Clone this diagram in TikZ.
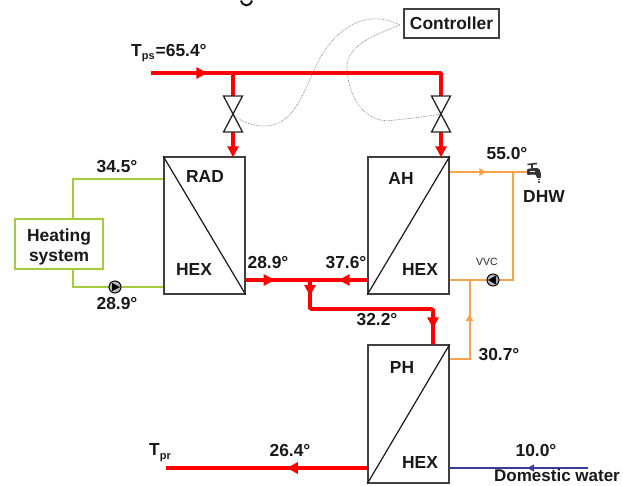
\documentclass[tikz,border=0pt]{standalone}
\usepackage{fontspec}
\setmainfont{Liberation Sans}
\usetikzlibrary{arrows.meta,decorations.markings,calc}
\definecolor{hotred}{HTML}{FF0000}
\definecolor{grn}{HTML}{A2CC3A}
\definecolor{org}{HTML}{F9A24B}
\definecolor{blu}{HTML}{3B3B9E}
\definecolor{edgegray}{HTML}{404040}
\tikzset{
  lbl/.style={font=\fontsize{17.4}{19}\selectfont\bfseries,inner sep=0pt,text=black!90},
  hexbox/.style={draw=edgegray,line width=1.5pt,minimum width=81pt,minimum height=137pt,inner sep=0pt,fill=white},
  redp/.style={draw=hotred,line width=3.6pt},
  grnp/.style={draw=grn,line width=2pt},
  orgp/.style={draw=org,line width=2pt},
  blup/.style={draw=blu,line width=1.5pt},
  ctl/.style={draw=gray,line width=0.7pt,densely dotted},
  diag/.style={draw=black!90,line width=1.2pt},
  valveshape/.style={draw=black!85,line width=1.3pt,fill=white},
  pumpn/.style={circle,draw=black,fill=gray!55,line width=1pt,minimum size=12pt,inner sep=0pt},
  tipat/.style args={#1 size #2}{postaction={decorate},decoration={markings,mark=at position #1 with {\arrow{Triangle[length=#2pt,width=#2pt]}}}},
}
\begin{document}
\begin{tikzpicture}[x=1pt,y=-1pt]
\useasboundingbox (0,0) rectangle (623,485);
% fragment at the top edge
\draw[line width=2pt,black!90] (241,0.5) .. controls (243,7) and (250,7) .. (252,0.5);

\node[hexbox] (rad) at (204.5,225.5) {};
\node[hexbox] (ah) at (408.5,225.5) {};
\node[hexbox,minimum height=138pt] (ph) at (408.5,414) {};
\node[draw=edgegray,fill=white,line width=1.2pt,minimum width=95pt,minimum height=29pt,inner sep=0pt,lbl] (ctrl) at (451.5,23.5) {Controller};
\node[draw=grn,line width=2pt,minimum width=88pt,minimum height=50pt,inner sep=0pt,align=center,lbl,font=\fontsize{17.4}{20}\selectfont\bfseries] (heat) at (59,243.5) {\rule{0pt}{19pt}Heating\\system};

% coordinates
\coordinate (src) at (151,73);
\coordinate (tee) at (233,73);
\coordinate (cor) at (441,73);
\coordinate (v1) at (233,114);
\coordinate (v2) at (441,114);
\coordinate (j) at (310,280);
\coordinate (jd) at (310,309);
\coordinate (jr) at (433,309);
\coordinate (prend) at (166,468);
\coordinate (cwend) at (588,468);
\coordinate (hot) at (513,172);
\coordinate (tapin) at (527,172);
\coordinate (rec) at (513,280);
\coordinate (mix) at (469.5,280);
\coordinate (mixd) at (469.5,359);

% dotted control lines
\draw[ctl] (400,25) .. controls (378,14) and (350,15) .. (325,50) .. controls (305,80) and (300,125) .. (265,126) .. controls (250,126) and (240,121) .. (v1);
\draw[ctl] (400,25) .. controls (375,35) and (345,45) .. (347,70) .. controls (350,105) and (370,125) .. (395,120) .. controls (415,118) and (430,116) .. (v2);

% red lines
\draw[redp,tipat=0.18 size 11,line join=round] (src) -- (cor) -- (v2 |- 0,96);
\draw[redp] (tee) -- (v1 |- 0,96);
\draw[redp,-{Triangle[length=11pt,width=11pt]},shorten >=-1pt] (v1 |- 0,132) -- (v1 |- rad.north);
\draw[redp,-{Triangle[length=11pt,width=11pt]},shorten >=-1pt] (v2 |- 0,132) -- (v2 |- ah.north);
\draw[redp,tipat=0.45 size 11] (rad.east |- j) -- (j);
\draw[redp,tipat=0.5 size 11] (ah.west |- j) -- (j);
\draw[redp,line join=round,rounded corners=1pt] (j) -- (jd) -- (jr) -- (jr |- ph.north);
\draw[redp,tipat=0.55 size 11] (j) -- (jd);
\draw[redp,tipat=0.55 size 11] (jr) -- (jr |- ph.north);
\draw[redp,tipat=0.40 size 11] (ph.west |- prend) -- (prend);

% green
\draw[grnp] (heat.north -| 73,0) -- (73,179) -- (rad.west |- 0,179);
\draw[grnp] (heat.south -| 73,0) -- (73,287) -- (rad.west |- 0,287);
\node[pumpn] (p1) at (115,287) {};
\fill[black] ($(p1)+(-3,-4)$) -- ($(p1)+(5,0)$) -- ($(p1)+(-3,4)$) -- cycle;

% orange
\draw[orgp,tipat=0.58 size 7] (ah.east |- hot) -- (hot);
\draw[orgp] (hot) -- (tapin);
\draw[orgp] (hot) -- (rec) -- (ah.east |- rec);
\draw[orgp] (ph.east |- mixd) -- (mixd) -- (mix);
\draw[orgp,tipat=0.57 size 7] (mixd) -- (mix);
\node[pumpn] (p2) at (493,280) {};
\fill[black] ($(p2)+(3,-4.5)$) -- ($(p2)+(-5,0)$) -- ($(p2)+(3,4.5)$) -- cycle;

% blue
\draw[blup,tipat=0.44 size 7] (cwend) -- (ph.east |- cwend);

% heat exchanger diagonals
\draw[diag] (rad.north west) -- (rad.south east);
\draw[diag] (ah.south west) -- (ah.north east);
\draw[diag] (ph.south west) -- (ph.north east);

% valves
\foreach \v in {v1,v2}{
  \draw[valveshape,line join=miter] ($(\v)+(-9.5,-18)$) -- ($(\v)+(9.5,-18)$) -- ($(\v)+(-9.5,18)$) -- ($(\v)+(9.5,18)$) -- cycle;
}

% tap
\fill[black!80,rounded corners=1pt]
  (527,169) -- (533,168) -- (537,168) .. controls (540,169) and (541,172) .. (541,178) -- (536.5,178) .. controls (536.5,175) and (536,174.5) .. (533,174.5) -- (527,175) -- cycle;
\draw[black!80,line width=1.6pt] (532,168) -- (532,164.5) (527.5,164.5) -- (537,163.5);
\fill[white] (529.5,170.5) rectangle (535,172);
\draw[black!70,line width=1.4pt,densely dotted] (539,179) -- (539,183);

% labels
\node[lbl,anchor=base west] at (131,56) {T\raisebox{-3.5pt}{\fontsize{11}{12}\selectfont ps}\kern1pt=65.4°};
\node[lbl] at (117,167) {34.5°};
\node[lbl] at (117,304) {28.9°};
\node[lbl] at (268,263) {28.9°};
\node[lbl] at (346,263) {37.6°};
\node[lbl] at (377,320) {32.2°};
\node[lbl] at (507,154) {55.0°};
\node[lbl] at (544,197) {DHW};
\node[inner sep=0pt,font=\fontsize{10.5}{12}\selectfont,text=black!85] at (487,262) {VVC};
\node[lbl] at (205,177) {RAD};
\node[lbl] at (194,270) {HEX};
\node[lbl] at (401,179) {AH};
\node[lbl] at (420,270) {HEX};
\node[lbl] at (402,368) {PH};
\node[lbl] at (420,463) {HEX};
\node[lbl] at (499,355) {30.7°};
\node[lbl] at (290,451) {26.4°};
\node[lbl] at (536,451) {10.0°};
\node[font=\fontsize{17}{19}\selectfont\bfseries,inner sep=0pt,text=black!90,anchor=base west] at (494,481) {Domestic water};
\node[lbl,anchor=base west] at (149,455) {T\raisebox{-4pt}{\fontsize{11}{12}\selectfont pr}};
\end{tikzpicture}
\end{document}
